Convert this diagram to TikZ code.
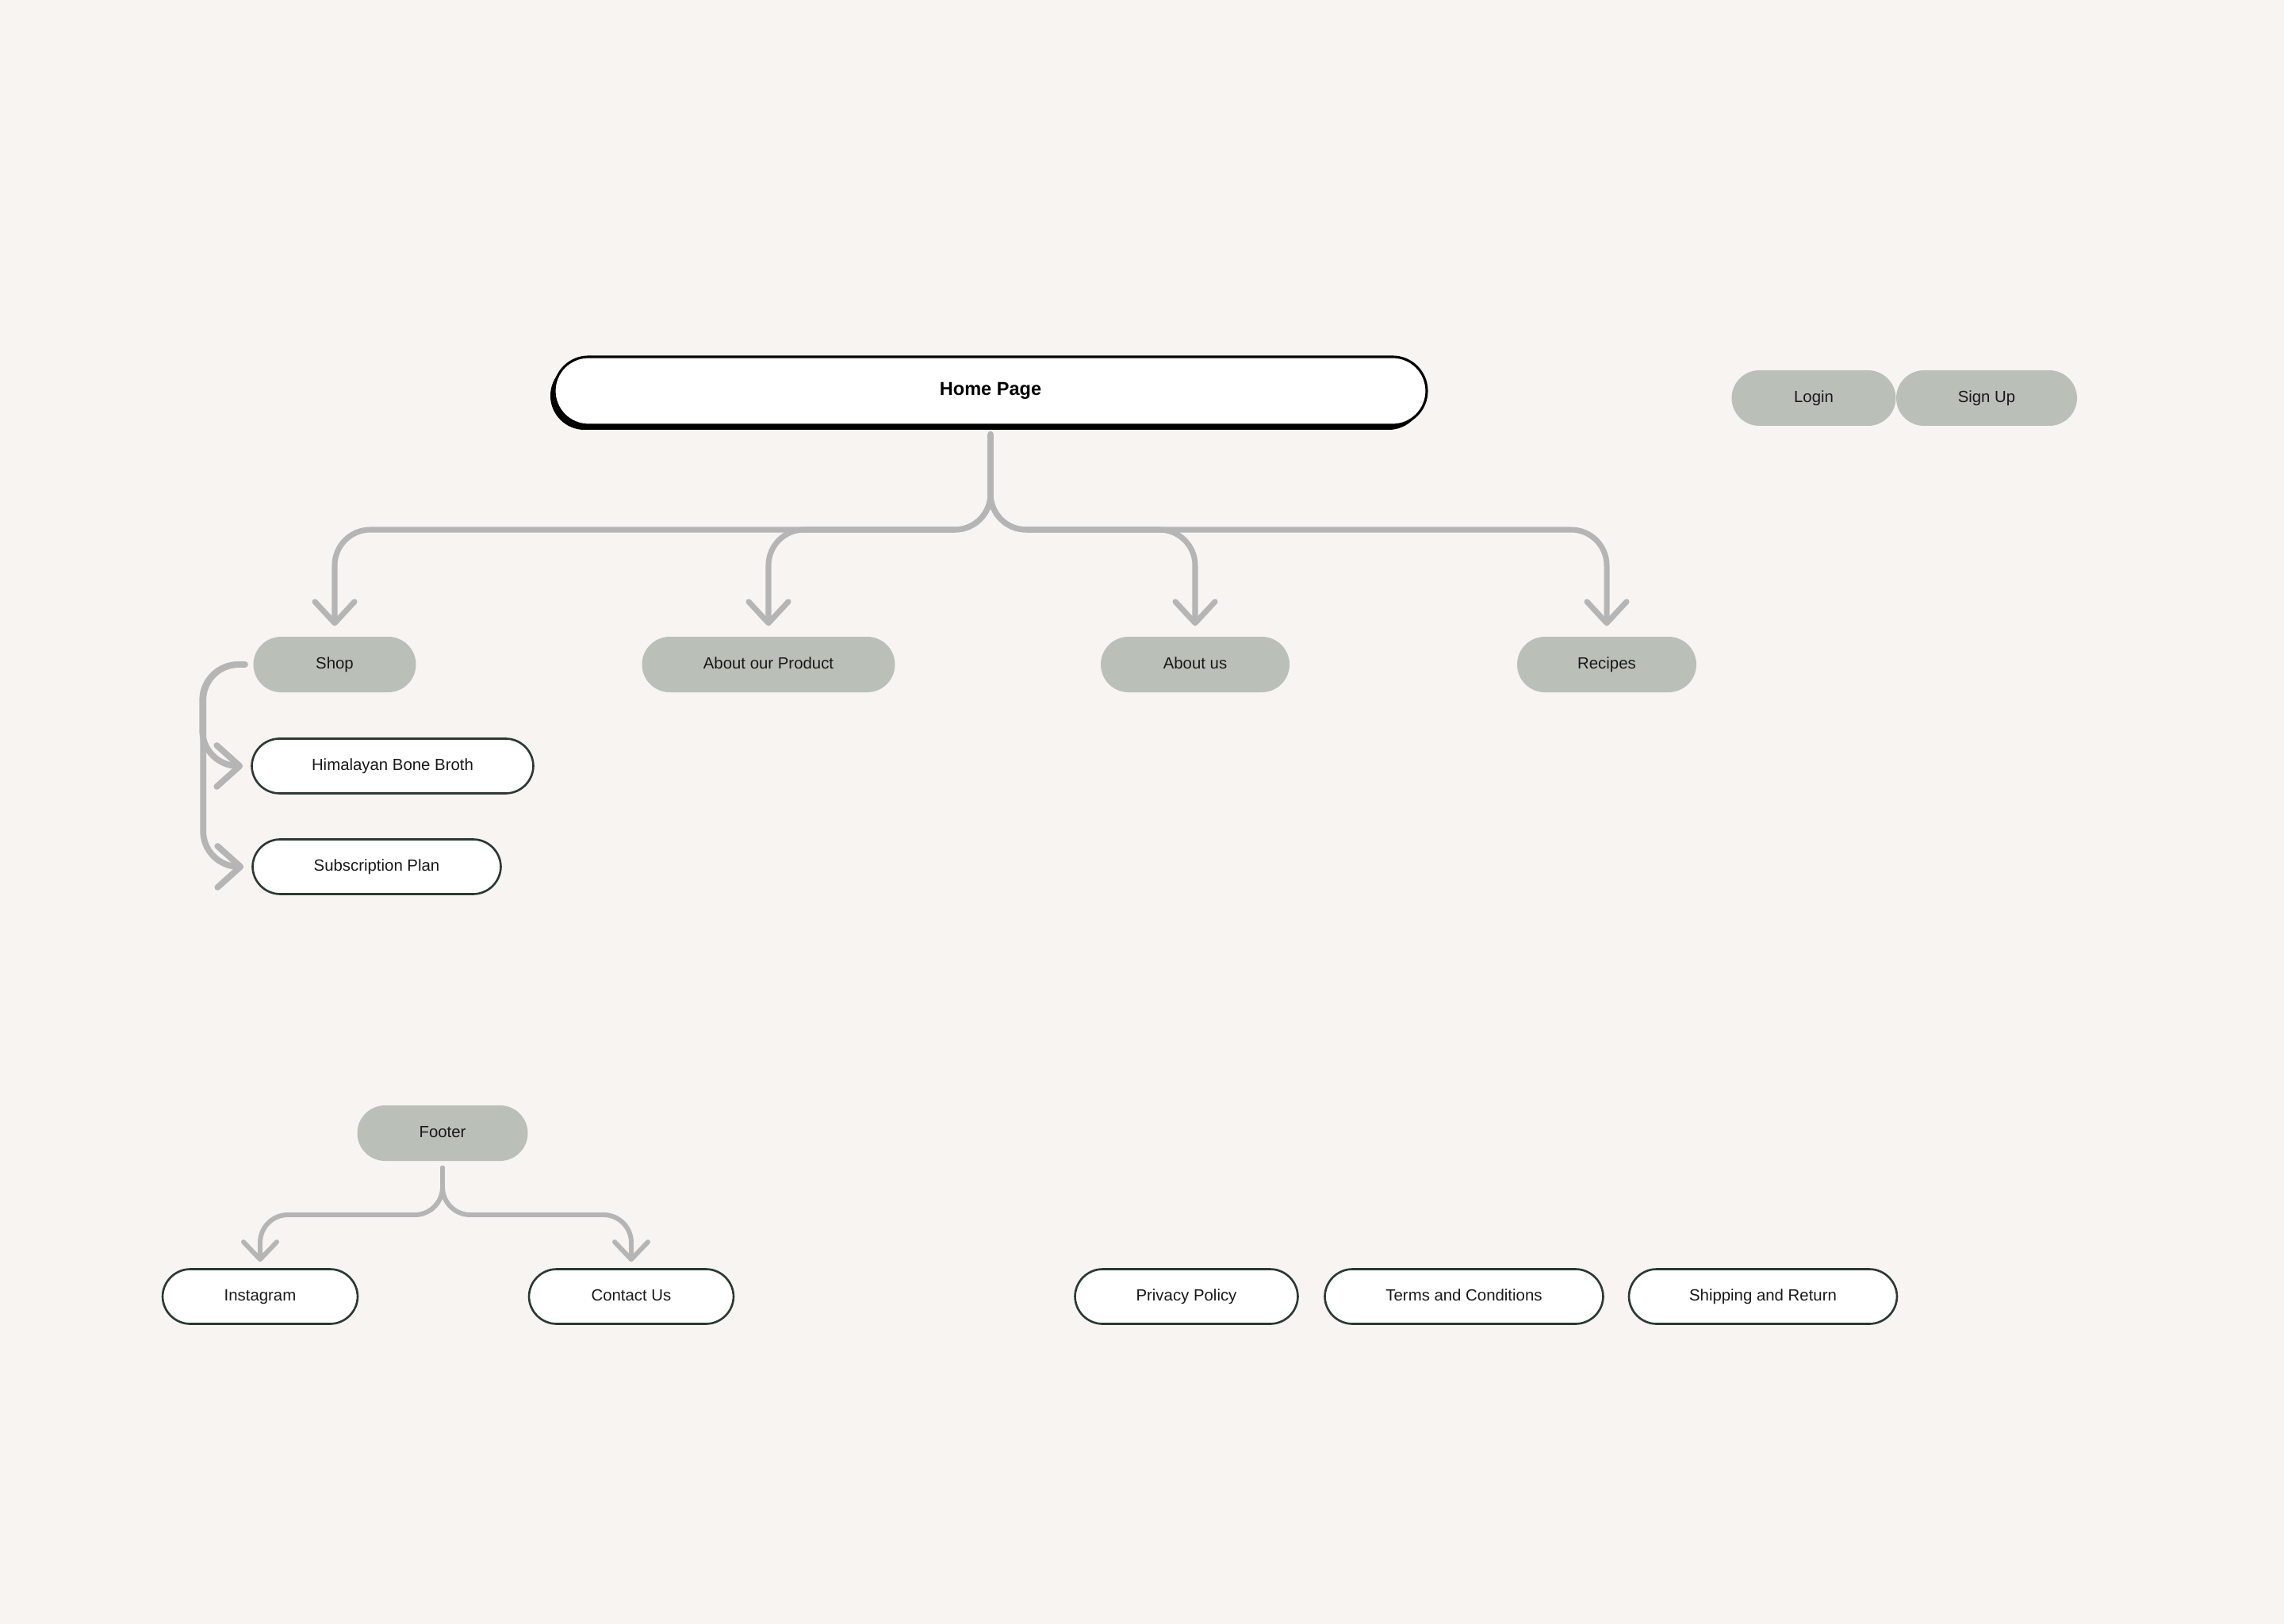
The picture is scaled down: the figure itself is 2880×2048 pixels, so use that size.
\documentclass[tikz,border=0pt]{standalone}
\usepackage{fontspec}
\setmainfont{Liberation Sans}
\usetikzlibrary{arrows.meta,shadows}
\definecolor{paper}{HTML}{F7F4F2}
\definecolor{sage}{HTML}{BAC0B8}
\definecolor{linkgray}{HTML}{B5B5B5}
\definecolor{ink}{HTML}{2B3A33}
\begin{document}
\begin{tikzpicture}[x=0.1mm,y=-0.1mm, font=\fontsize{5.8}{7}\selectfont, line join=round, line cap=round,
	pill/.style={rounded corners=3.5mm, minimum height=7mm, inner sep=0pt, text=black!90,
		text height=1.05ex, text depth=0.43ex},
	tab/.style={pill, fill=sage},
	page/.style={pill, fill=white, draw=ink, line width=0.75pt, minimum height=6.9mm},
	wire/.style={draw=linkgray, line width=2pt, rounded corners=4.5mm, shorten >=1.3mm,
		-{Straight Barb[length=2.7mm,width=5mm,round]}}]
	\fill[paper] (0,0) rectangle (2880,2048);
	% header
	\node[draw=black, fill=white, line width=0.9pt, rounded corners=4.3mm, minimum width=110mm,
		minimum height=8.6mm, inner sep=0pt, font=\fontsize{6.7}{8}\selectfont\bfseries,
		drop shadow={shadow xshift=-0.5mm, shadow yshift=-0.6mm, fill=black, opacity=1}] (home) at (1249,493) {Home Page};
	\node[tab, minimum width=20.7mm] (login) at (2287,502) {Login};
	\node[tab, minimum width=22.8mm] (signup) at (2505,502) {Sign Up};
	% main menu
	\node[tab, minimum width=20.5mm] (shop) at (422,838) {Shop};
	\node[tab, minimum width=31.9mm] (product) at (969,838) {About our Product};
	\node[tab, minimum width=23.8mm] (aboutus) at (1507,838) {About us};
	\node[tab, minimum width=22.6mm] (recipes) at (2026,838) {Recipes};
	\node[page, minimum width=35.5mm] (broth) at (495,966) {Himalayan Bone Broth};
	\node[page, minimum width=31.3mm] (plan) at (475,1093) {Subscription Plan};
	% footer
	\node[tab, minimum width=21.5mm] (footer) at (558,1429) {Footer};
	\node[page, minimum width=24.6mm] (insta) at (328,1635) {Instagram};
	\node[page, minimum width=25.8mm] (contact) at (796,1635) {Contact Us};
	\node[page, minimum width=28.1mm] (privacy) at (1496,1635) {Privacy Policy};
	\node[page, minimum width=35.1mm] (terms) at (1846,1635) {Terms and Conditions};
	\node[page, minimum width=33.8mm] (shipping) at (2223,1635) {Shipping and Return};
	% links
	\coordinate (bar) at (1250,668);
	\foreach \n in {shop,product,aboutus,recipes}
		\draw[wire] ([yshift=-1mm]home.south) |- (bar -| \n) -- (\n);
	\draw[wire, line width=2.2pt, shorten >=1mm, -{Straight Barb[length=2.9mm,width=5.2mm,round]}]
		([xshift=-1mm]shop.west) -| ([xshift=-6.1mm]broth.west) -- (broth);
	\draw[wire, line width=2.2pt, shorten >=1mm, -{Straight Barb[length=2.9mm,width=5.2mm,round]}]
		([xshift=-1mm]shop.west) -| ([xshift=-6.1mm]plan.west) -- (plan);
	\coordinate (fbar) at (558,1532);
	\foreach \n in {insta,contact}
		\draw[wire, line width=1.7pt, rounded corners=3.5mm, shorten >=0.8mm,
			-{Straight Barb[length=2.2mm,width=4.2mm,round]}] ([yshift=-0.8mm]footer.south) |- (fbar -| \n) -- (\n);
\end{tikzpicture}
\end{document}
